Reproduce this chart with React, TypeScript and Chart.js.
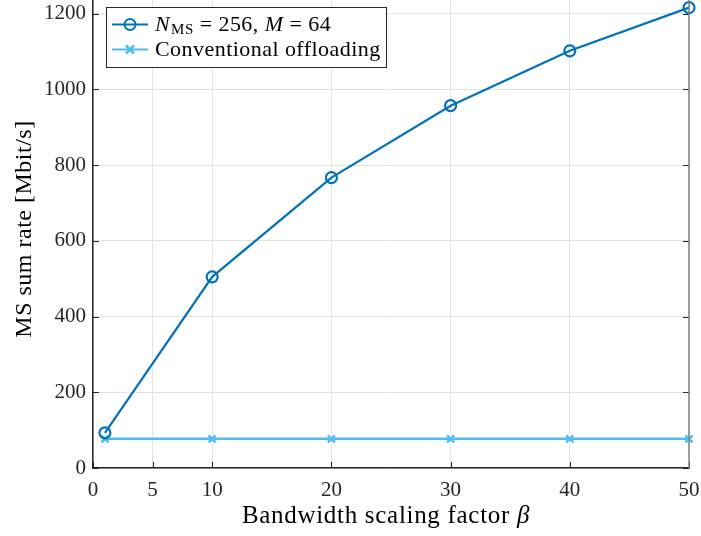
import React, { useEffect, useRef } from "react";
import { Chart, registerables } from "chart.js";

Chart.register(...registerables);

const xValues = [1, 10, 20, 30, 40, 50];
const proposedRates = [93, 505, 767, 957, 1102, 1216];
const conventionalRates = [77, 77, 77, 77, 77, 77];
const xTicks = [0, 5, 10, 20, 30, 40, 50];
const yTicks = [0, 200, 400, 600, 800, 1000, 1200];
const legendLabels = ["N_MS = 256, M = 64", "Conventional offloading"];
const xTitle = "Bandwidth scaling factor β";
const yTitle = "MS sum rate [Mbit/s]";

const DARK = "#0072BD";
const LIGHT = "#4DBEEE";
const FONT = "'Liberation Serif', 'Times New Roman', serif";
const AXIS = "#262626";
const SHIFT = 8; // canvas is shifted up by this many pixels

const overlayPlugin = {
  id: "overlay",
  afterDraw(chart: any) {
    const ctx = chart.ctx;
    const { left, right, top, bottom } = chart.chartArea;
    const xs = chart.scales.x;
    const ys = chart.scales.y;
    ctx.save();
    ctx.strokeStyle = AXIS;
    ctx.lineWidth = 1;
    ctx.beginPath();
    xTicks.forEach((t) => {
      const px = Math.round(xs.getPixelForValue(t)) + 0.5;
      ctx.moveTo(px, bottom);
      ctx.lineTo(px, bottom - 6);
    });
    yTicks.forEach((t) => {
      const py = Math.round(ys.getPixelForValue(t)) + 0.5;
      ctx.moveTo(left, py);
      ctx.lineTo(left + 6, py);
      ctx.moveTo(right, py);
      ctx.lineTo(right - 6, py);
    });
    ctx.stroke();
    ctx.strokeStyle = "#7f7f7f";
    ctx.lineWidth = 1.5;
    ctx.beginPath();
    ctx.moveTo(right, top);
    ctx.lineTo(right, bottom);
    ctx.stroke();

    // legend
    const bx = 106.5, by = 7.5 + SHIFT, bw = 280, bh = 60;
    ctx.fillStyle = "#ffffff";
    ctx.fillRect(bx, by, bw, bh);
    ctx.strokeStyle = AXIS;
    ctx.lineWidth = 1;
    ctx.strokeRect(bx, by, bw, bh);

    const rows = [by + 17, by + 42];
    ctx.strokeStyle = DARK;
    ctx.lineWidth = 2;
    ctx.beginPath();
    ctx.moveTo(112, rows[0]);
    ctx.lineTo(148, rows[0]);
    ctx.stroke();
    ctx.beginPath();
    ctx.arc(130, rows[0], 5.5, 0, Math.PI * 2);
    ctx.stroke();
    ctx.strokeStyle = LIGHT;
    ctx.beginPath();
    ctx.moveTo(112, rows[1]);
    ctx.lineTo(148, rows[1]);
    ctx.stroke();
    ctx.lineWidth = 2.5;
    ctx.beginPath();
    ctx.moveTo(126, rows[1] - 4);
    ctx.lineTo(134, rows[1] + 4);
    ctx.moveTo(134, rows[1] - 4);
    ctx.lineTo(126, rows[1] + 4);
    ctx.stroke();

    ctx.fillStyle = "#000000";
    ctx.textBaseline = "middle";
    ctx.textAlign = "left";
    ctx.letterSpacing = "0.45px";
    let x = 155;
    const base = rows[0] + 1;
    const parts1 = legendLabels[0].split("_");
    const rest = parts1[1];
    const sub = rest.slice(0, 2);
    const after = rest.slice(2);
    ctx.font = `italic 22px ${FONT}`;
    ctx.fillText(parts1[0], x, base);
    x += ctx.measureText(parts1[0]).width + 1;
    ctx.font = `15px ${FONT}`;
    ctx.fillText(sub, x, base + 5);
    x += ctx.measureText(sub).width;
    const mIdx = after.indexOf("M");
    const seg1 = after.slice(0, mIdx);
    const seg2 = after.slice(mIdx, mIdx + 1);
    const seg3 = after.slice(mIdx + 1);
    ctx.font = `22px ${FONT}`;
    ctx.fillText(seg1, x, base);
    x += ctx.measureText(seg1).width;
    ctx.font = `italic 22px ${FONT}`;
    ctx.fillText(seg2, x, base);
    x += ctx.measureText(seg2).width;
    ctx.font = `22px ${FONT}`;
    ctx.fillText(seg3, x, base);
    ctx.fillText(legendLabels[1], 155, rows[1] + 1);

    // x title
    ctx.letterSpacing = "0.7px";
    const xt = xTitle.slice(0, -1);
    const beta = xTitle.slice(-1);
    ctx.font = `25px ${FONT}`;
    const w1 = ctx.measureText(xt).width;
    ctx.font = `italic 25px ${FONT}`;
    const w2 = ctx.measureText(beta).width;
    const cx = 386;
    const sx = cx - (w1 + w2) / 2;
    ctx.font = `25px ${FONT}`;
    ctx.fillText(xt, sx, 516 + SHIFT);
    ctx.font = `italic 25px ${FONT}`;
    ctx.fillText(beta, sx + w1, 516 + SHIFT);

    // y title
    ctx.letterSpacing = "0.5px";
    ctx.translate(25, 229 + SHIFT);
    ctx.rotate(-Math.PI / 2);
    ctx.textAlign = "center";
    ctx.font = `24px ${FONT}`;
    ctx.fillText(yTitle, 0, 0);
    ctx.letterSpacing = "0px";
    ctx.restore();
  },
};

export default function App() {
  const ref = useRef<HTMLCanvasElement>(null);
  useEffect(() => {
    if (!ref.current) return;
    const chart = new Chart(ref.current, {
      type: "line",
      data: {
        datasets: [
          {
            label: legendLabels[0],
            data: xValues.map((x, i) => ({ x, y: proposedRates[i] })),
            borderColor: DARK,
            backgroundColor: "rgba(0,0,0,0)",
            borderWidth: 2.2,
            pointStyle: "circle",
            pointRadius: 5.5,
            pointBorderWidth: 2.2,
            pointBorderColor: DARK,
            pointBackgroundColor: "rgba(0,0,0,0)",
            tension: 0,
            clip: false as any,
          },
          {
            label: legendLabels[1],
            data: xValues.map((x, i) => ({ x, y: conventionalRates[i] })),
            borderColor: LIGHT,
            backgroundColor: LIGHT,
            borderWidth: 2.5,
            pointStyle: "crossRot",
            pointRadius: 5,
            pointBorderWidth: 2.5,
            pointBorderColor: LIGHT,
            tension: 0,
            clip: false as any,
          },
        ],
      },
      options: {
        animation: false,
        responsive: false,
        layout: { padding: { left: 0, right: 12, top: 0, bottom: 0 } },
        plugins: { legend: { display: false }, tooltip: { enabled: false } },
        scales: {
          x: {
            type: "linear",
            min: 0,
            max: 50,
            afterBuildTicks: (s: any) => {
              s.ticks = xTicks.map((v) => ({ value: v }));
            },
            afterFit: (s: any) => {
              s.height = 68;
              s.paddingLeft = 0;
              s.paddingRight = 0;
            },
            ticks: {
              font: { family: FONT, size: 21 },
              color: AXIS,
              padding: 10,
              maxRotation: 0,
              autoSkip: false,
              callback: (v: any) => String(v),
            },
            grid: { color: "#e3e3e3", drawTicks: false, lineWidth: 1 },
            border: { color: AXIS, width: 1.5 },
          },
          y: {
            type: "linear",
            min: 0,
            max: 1237,
            afterBuildTicks: (s: any) => {
              s.ticks = yTicks.map((v) => ({ value: v }));
            },
            afterFit: (s: any) => {
              s.width = 93;
              s.paddingTop = 0;
              s.paddingBottom = 0;
            },
            ticks: {
              font: { family: FONT, size: 21 },
              color: AXIS,
              padding: 7,
              autoSkip: false,
              callback: (v: any) => String(v),
            },
            grid: { color: "#e3e3e3", drawTicks: false, lineWidth: 1 },
            border: { color: AXIS, width: 1.5 },
          },
        },
      },
      plugins: [overlayPlugin],
    });
    return () => chart.destroy();
  }, []);
  return (
    <div style={{ position: "fixed", left: 0, top: 0, width: 701, height: 536, background: "#fff", overflow: "hidden" }}>
      <canvas
        ref={ref}
        width={701}
        height={536 + SHIFT}
        style={{ position: "absolute", left: 0, top: -SHIFT, width: 701, height: 536 + SHIFT }}
      />
    </div>
  );
}
